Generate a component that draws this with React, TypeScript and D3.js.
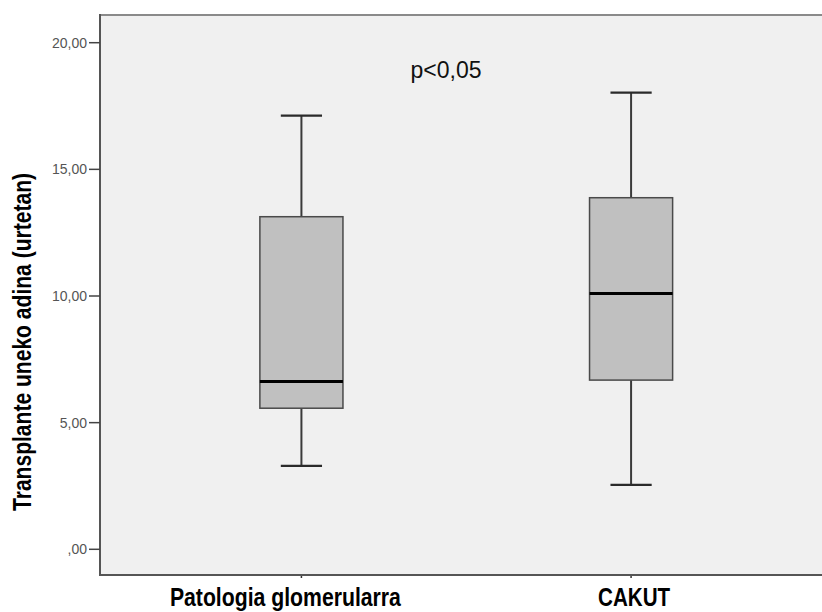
import React from "react";
import * as d3 from "d3";

const categories = ["Patologia glomerularra", "CAKUT"];
const whiskerLow = [3.29, 2.54];
const q1 = [5.57, 6.68];
const median = [6.62, 10.1];
const q3 = [13.13, 13.88];
const whiskerHigh = [17.12, 18.03];
const yTicks = [0, 5, 10, 15, 20];
const yTickLabels = [",00", "5,00", "10,00", "15,00", "20,00"];
const yTitle = "Transplante uneko adina (urtetan)";
const annotation = "p<0,05";

export default function App() {
  const W = 822;
  const H = 612;
  const left = 100;
  const y = d3.scaleLinear().domain([0, 20]).range([549.3, 42.7]);
  const top = y(21.09);
  const bottom = y(-1.015);
  const x = d3.scalePoint<string>().domain(categories).range([left, 832.5]).padding(0.611);
  const step = x.step();
  const boxHalf = step * 0.126;
  const capHalf = step * 0.0625;
  const labelDx = [-16, 3];
  const labelLen = [231, 72];
  const font = "'Liberation Sans', Arial, sans-serif";

  return (
    <svg width={W} height={H} style={{ position: "absolute", left: 0, top: 0, background: "#fff" }} fontFamily={font}>
      <rect x={left} y={top} width={W - left} height={bottom - top} fill="#f0f0f0" />
      <line x1={left} x2={W} y1={top} y2={top} stroke="#8a8a8a" strokeWidth={2} />
      {categories.map((c, i) => {
        const cx = x(c)!;
        return (
          <g key={c}>
            <line x1={cx} x2={cx} y1={y(whiskerHigh[i])} y2={y(q3[i])} stroke="#3a3a3a" strokeWidth={2} />
            <line x1={cx} x2={cx} y1={y(q1[i])} y2={y(whiskerLow[i])} stroke="#3a3a3a" strokeWidth={2} />
            <line x1={cx - capHalf} x2={cx + capHalf} y1={y(whiskerHigh[i])} y2={y(whiskerHigh[i])} stroke="#2a2a2a" strokeWidth={2.2} />
            <line x1={cx - capHalf} x2={cx + capHalf} y1={y(whiskerLow[i])} y2={y(whiskerLow[i])} stroke="#2a2a2a" strokeWidth={2.2} />
            <rect x={cx - boxHalf} y={y(q3[i])} width={boxHalf * 2} height={y(q1[i]) - y(q3[i])} fill="#c0c0c0" stroke="#4a4a4a" strokeWidth={1.5} />
            <line x1={cx - boxHalf} x2={cx + boxHalf} y1={y(median[i])} y2={y(median[i])} stroke="#000" strokeWidth={3} />
            <line x1={cx} x2={cx} y1={bottom} y2={bottom + 3} stroke="#333" strokeWidth={1.5} />
            <text x={cx + labelDx[i]} y={606} textAnchor="middle" fontSize={25} fontWeight="bold" fill="#000" textLength={labelLen[i]} lengthAdjust="spacingAndGlyphs">{c}</text>
          </g>
        );
      })}
      <line x1={left} x2={W} y1={bottom} y2={bottom} stroke="#555" strokeWidth={2} />
      <line x1={left} x2={left} y1={top - 1} y2={bottom + 1} stroke="#555" strokeWidth={2} />
      {yTicks.map((t, i) => (
        <g key={t}>
          <line x1={89} x2={left} y1={y(t)} y2={y(t)} stroke="#444" strokeWidth={1.5} />
          <text x={87} y={y(t)} dy="0.35em" textAnchor="end" fontSize={14} fill="#555">{yTickLabels[i]}</text>
        </g>
      ))}
      <text transform={`translate(31, 342) rotate(-90)`} textAnchor="middle" fontSize={25} fontWeight="bold" fill="#000" textLength={338} lengthAdjust="spacingAndGlyphs">{yTitle}</text>
      <text x={446} y={78} textAnchor="middle" fontSize={23} fill="#111">{annotation}</text>
    </svg>
  );
}
